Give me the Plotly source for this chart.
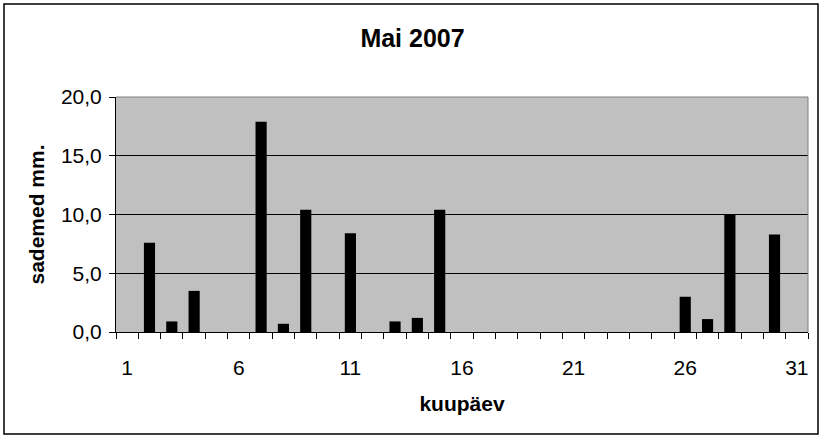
import plotly.graph_objects as go

days = list(range(1, 32))
rain = [0, 7.6, 0.9, 3.5, 0, 0, 17.9, 0.7, 10.4, 0, 8.4, 0, 0.9, 1.2, 10.4,
        0, 0, 0, 0, 0, 0, 0, 0, 0, 0, 3.0, 1.1, 10.0, 0, 8.3, 0]
xtick_vals = [1, 6, 11, 16, 21, 26, 31]
ytick_vals = [0, 5, 10, 15, 20]

W, H = 825, 439
L, R, T, B = 116, 17, 97, 107
pw, ph = W - L - R, H - T - B

fig = go.Figure(go.Bar(x=days, y=rain, width=0.5, marker=dict(color="black", line=dict(width=0))))

font = "Liberation Sans, Arial, sans-serif"

fig.update_layout(
    width=W, height=H,
    margin=dict(l=L, r=R, t=T, b=B),
    paper_bgcolor="white", plot_bgcolor="#C0C0C0",
    separators=",.",
    showlegend=False,
    title=dict(text="<b>Mai 2007</b>", x=0.5, xanchor="center", y=1 - 38 / H, yanchor="middle",
               font=dict(family=font, size=25, color="black")),
    font=dict(family=font, color="black"),
)

fig.update_xaxes(
    range=[0.5, 31.5], tickmode="array", tickvals=xtick_vals,
    ticks="", showgrid=False, zeroline=False,
    showline=True, linecolor="black", linewidth=1,
    tickfont=dict(size=21, family=font), ticklabelstandoff=17,
    minor=dict(tickmode="linear", tick0=0.5, dtick=1, ticks="outside", ticklen=6,
               tickcolor="black", showgrid=False),
    title=dict(text="<b>kuupäev</b>", font=dict(size=21, family=font), standoff=18),
)
fig.update_yaxes(
    range=[0, 20], tickmode="array", tickvals=ytick_vals, tickformat=".1f",
    ticks="outside", ticklen=6, tickcolor="black",
    showgrid=True, gridcolor="black", gridwidth=1, zeroline=False,
    showline=True, linecolor="black", linewidth=1,
    tickfont=dict(size=21, family=font), ticklabelstandoff=3,
    title=dict(text="<b>sademed mm.</b>", font=dict(size=21, family=font), standoff=10),
)

# plot-area border (top/right in gray)
fig.add_shape(type="line", xref="paper", yref="paper", x0=0, x1=1, y0=1, y1=1,
              line=dict(color="#808080", width=1))
fig.add_shape(type="line", xref="paper", yref="paper", x0=1, x1=1, y0=0, y1=1,
              line=dict(color="#808080", width=1))
# outer chart border
fig.add_shape(type="rect", xref="paper", yref="paper",
              x0=(4 - L) / pw, x1=(818 - L) / pw,
              y0=(H - B - 434) / ph, y1=(H - B - 4) / ph,
              line=dict(color="black", width=1.5), fillcolor="rgba(0,0,0,0)", layer="below")

fig.write_html("out.html", config={"displayModeBar": False},
               post_script="document.body.style.margin='0';")
